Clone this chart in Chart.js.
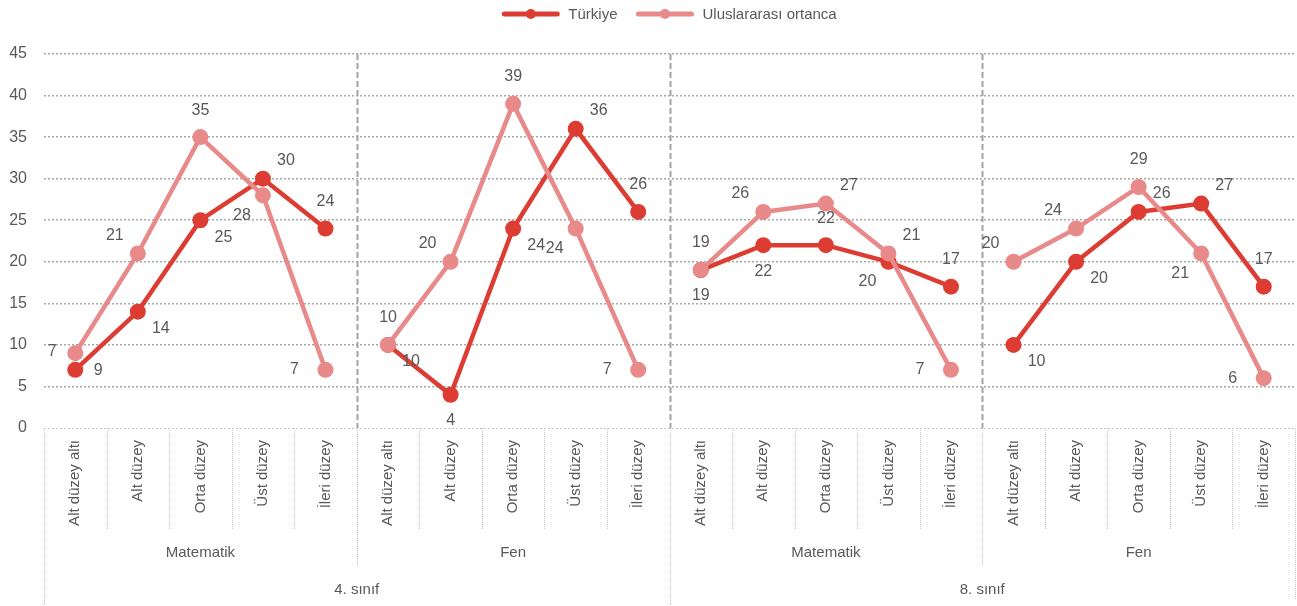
<!DOCTYPE html>
<html>
<head>
<meta charset="utf-8">
<script src="https://cdn.jsdelivr.net/npm/chart.js@4.4.1/dist/chart.umd.min.js"></script>
<style>
  html, body { margin: 0; padding: 0; background: #fff; }
  #wrap { width: 1297px; height: 606px; }
</style>
</head>
<body>
<div id="wrap"><canvas id="chart" width="1297" height="606"></canvas></div>
<script>
// ---- data ----
const levels   = ["Alt düzey altı", "Alt düzey", "Orta düzey", "Üst düzey", "İleri düzey"];
const subjects = ["Matematik", "Fen", "Matematik", "Fen"];
const grades   = ["4. sınıf", "8. sınıf"];

const turkiye = [7, 14, 25, 30, 24,  10, 4, 24, 36, 26,  19, 22, 22, 20, 17,  10, 20, 26, 27, 17];
const ortanca = [9, 21, 35, 28, 7,   10, 20, 39, 24, 7,  19, 26, 27, 21, 7,   20, 24, 29, 21, 6];

// where each value label sits around its point (compass direction)
const turkiyeLabelDir = ["nw","se","se","ne","n",  "se","s","se","ne","n",  "s","s","n","sw","n",  "se","se","ne","ne","n"];
const ortancaLabelDir = ["se","nw","n","sw","w",   "n","nw","n","sw","w",   "n","nw","ne","ne","w",  "nw","nw","n","sw","w"];

const categories = [];
subjects.forEach(s => levels.forEach(l => categories.push(l)));

// ---- style ----
const DARK  = "#dd3c33";
const LIGHT = "#e8898a";
const TEXT  = "#595959";
const FONT  = "Liberation Sans, Arial, sans-serif";

const dirOffset = {
  n: [0, -27], s: [0, 26], e: [28, 0], w: [-31, 0],
  ne: [23, -18], nw: [-23, -18], se: [23, 17], sw: [-21, 20]
};

const groupGap = ctx => (ctx.p0DataIndex % 5 === 4 ? "rgba(0,0,0,0)" : undefined);

const tablePlugin = {
  id: "tablePlugin",
  beforeDatasetsDraw(chart) {
    const { ctx, chartArea: a, scales: { x } } = chart;
    ctx.save();
    ctx.strokeStyle = "#a3a3a3";
    ctx.lineWidth = 2;
    ctx.setLineDash([6, 3]);
    [5, 10, 15].forEach(i => {
      const bx = Math.round((x.getPixelForValue(i - 1) + x.getPixelForValue(i)) / 2) + 0.5;
      ctx.beginPath();
      ctx.moveTo(bx, a.top);
      ctx.lineTo(bx, a.bottom);
      ctx.stroke();
    });
    ctx.restore();
  },
  afterDatasetsDraw(chart) {
    const { ctx, scales: { x, y } } = chart;
    ctx.save();
    ctx.fillStyle = TEXT;
    ctx.font = "16px " + FONT;
    ctx.textAlign = "center";
    ctx.textBaseline = "middle";
    [[turkiye, turkiyeLabelDir], [ortanca, ortancaLabelDir]].forEach(([vals, dirs]) => {
      vals.forEach((v, i) => {
        const off = dirOffset[dirs[i]];
        ctx.fillText(String(v), x.getPixelForValue(i) + off[0], y.getPixelForValue(v) + off[1]);
      });
    });
    ctx.restore();
  },
  afterDraw(chart) {
    const { ctx, chartArea: a, scales: { x } } = chart;
    const n = categories.length;
    const edge = i => {
      if (i === 0) return a.left;
      if (i === n) return a.right;
      return (x.getPixelForValue(i - 1) + x.getPixelForValue(i)) / 2;
    };

    // table lines under the axis
    ctx.save();
    ctx.strokeStyle = "#c4c4c4";
    ctx.lineWidth = 1;
    ctx.setLineDash([1, 1]);
    for (let i = 0; i <= n; i++) {
      let end = 530;
      if (i % 10 === 5) end = 565;
      if (i % 10 === 0) end = 606;
      if (i === n) end = 600;
      const bx = Math.round(edge(i)) + 0.5;
      ctx.beginPath();
      ctx.moveTo(bx, a.bottom);
      ctx.lineTo(bx, end);
      ctx.stroke();
    }
    ctx.restore();

    // level labels (rotated)
    ctx.save();
    ctx.fillStyle = TEXT;
    ctx.font = "15px " + FONT;
    categories.forEach((c, i) => {
      ctx.save();
      ctx.translate(x.getPixelForValue(i), a.bottom + 12);
      ctx.rotate(-Math.PI / 2);
      ctx.textAlign = "right";
      ctx.textBaseline = "middle";
      ctx.fillText(c, 0, 0);
      ctx.restore();
    });

    ctx.textAlign = "center";
    ctx.textBaseline = "middle";
    subjects.forEach((s, g) => {
      ctx.fillText(s, (edge(g * 5) + edge(g * 5 + 5)) / 2, 553);
    });
    grades.forEach((gr, g) => {
      ctx.fillText(gr, (edge(g * 10) + edge(g * 10 + 10)) / 2, 590);
    });

    // legend
    const items = [["Türkiye", DARK], ["Uluslararası ortanca", LIGHT]];
    const sample = 57, gapText = 9, gapItem = 19;
    const widths = items.map(it => ctx.measureText(it[0]).width);
    const total = widths.reduce((s, w) => s + sample + gapText + w, 0) + gapItem;
    let lx = (a.left + a.right) / 2 - total / 2;
    const ly = 14;
    items.forEach((it, k) => {
      ctx.strokeStyle = it[1];
      ctx.fillStyle = it[1];
      ctx.lineWidth = 5;
      ctx.lineCap = "round";
      ctx.beginPath();
      ctx.moveTo(lx + 2, ly);
      ctx.lineTo(lx + sample - 2, ly);
      ctx.stroke();
      ctx.beginPath();
      ctx.arc(lx + sample / 2, ly, 5, 0, Math.PI * 2);
      ctx.fill();
      ctx.fillStyle = TEXT;
      ctx.textAlign = "left";
      ctx.fillText(it[0], lx + sample + gapText, ly + 1);
      lx += sample + gapText + widths[k] + gapItem;
    });
    ctx.restore();
  }
};

new Chart(document.getElementById("chart"), {
  type: "line",
  data: {
    labels: categories,
    datasets: [
      {
        label: "Türkiye",
        data: turkiye,
        borderColor: DARK,
        backgroundColor: DARK,
        pointBackgroundColor: DARK,
        borderWidth: 4.5,
        pointRadius: 8,
        pointBorderWidth: 0,
        tension: 0,
        order: 1,
        segment: { borderColor: groupGap }
      },
      {
        label: "Uluslararası ortanca",
        data: ortanca,
        borderColor: LIGHT,
        backgroundColor: LIGHT,
        pointBackgroundColor: LIGHT,
        borderWidth: 4.5,
        pointRadius: 8,
        pointBorderWidth: 0,
        tension: 0,
        order: 0,
        segment: { borderColor: groupGap }
      }
    ]
  },
  options: {
    responsive: false,
    animation: false,
    devicePixelRatio: 1,
    layout: { autoPadding: false, padding: { top: 54, bottom: 178, left: 0, right: 2 } },
    plugins: { legend: { display: false }, tooltip: { enabled: false } },
    scales: {
      x: { display: false, offset: true },
      y: {
        min: 0,
        max: 45,
        afterFit: s => { s.width = 44; },
        border: { display: false, dash: [2, 2] },
        grid: {
          drawTicks: false,
          color: c => (c.tick && c.tick.value === 0 ? "#c4c4c4" : "#a8a8a8"),
          lineWidth: c => (c.tick && c.tick.value === 0 ? 1 : 1.5)
        },
        ticks: {
          stepSize: 5,
          padding: 17,
          color: TEXT,
          font: { family: FONT, size: 16 }
        }
      }
    }
  },
  plugins: [tablePlugin]
});
</script>
</body>
</html>
